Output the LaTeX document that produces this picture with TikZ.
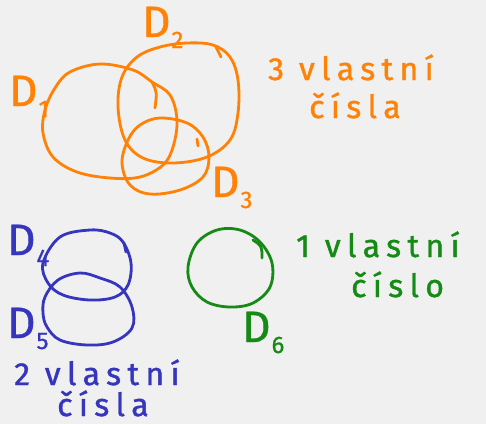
\documentclass[tikz,border=0pt]{standalone}
\usepackage{fontspec}
\setmainfont{Fira Sans}
\definecolor{bg}{HTML}{F0F0F0}
\definecolor{ora}{HTML}{FF8206}
\definecolor{blu}{HTML}{3535BE}
\definecolor{gre}{HTML}{158A15}
\newcommand{\dlab}[1]{D\kern1pt\raisebox{-0.25em}{\fontsize{24}{24}\selectfont #1}}
\tikzset{
  disc/.style={line width=2.8pt, line cap=round, line join=round},
  dname/.style={anchor=base west, inner sep=0pt, font=\fontsize{44}{44}\selectfont\addfontfeature{FakeBold=0.8}},
  cnt/.style={anchor=base west, inner sep=0pt, font=\fontsize{32}{32}\selectfont\addfontfeature{LetterSpace=20,FakeBold=1.2}}
}
\begin{document}
\begin{tikzpicture}[x=1pt,y=-1pt]
\fill[bg] (0,0) rectangle (486,424);
\useasboundingbox (0,0) rectangle (486,424);
% orange discs
\begin{scope}[ora, disc]
\draw plot[smooth cycle, tension=0.6] coordinates {(70,72) (100,64) (133,70) (152,82) (170,95) (177,120) (173,147) (163,165) (140,177) (110,178) (77,172) (53,157) (43,133) (45,110) (55,88)};
\draw (152,82) .. controls (157,92) .. (155,108);
\draw plot[smooth cycle, tension=0.6] coordinates {(187,43) (213,45) (230,57) (238,80) (238,113) (230,140) (207,157) (173,163) (143,158) (125,140) (118,107) (122,77) (137,57) (160,47)};
\draw (216,47) -- (221,57);
\draw plot[smooth cycle, tension=0.6] coordinates {(160,118) (187,123) (203,137) (209,157) (203,177) (180,190) (150,194) (130,185) (122,163) (128,140) (140,125)};
\draw (197,139) -- (198,146);
\end{scope}
\node[dname, ora] (d1) at (9,106) {\dlab{1}};
\node[dname, ora] (d2) at (142,37) {\dlab{2}};
\node[dname, ora] (d3) at (211,197) {\dlab{3}};
\node[cnt, ora] (t3a) at (268,80) {3 vlastní};
\node[cnt, ora] (t3b) at (309,118) {čísla};
% blue discs
\begin{scope}[blu, disc]
\draw plot[smooth cycle, tension=0.6] coordinates {(43,263) (60,237) (90,230) (110,233) (123,242) (131,263) (128,285) (115,297) (90,300) (63,295) (48,283)};
\draw (124,243) -- (126,252);
\draw plot[smooth cycle, tension=0.6] coordinates {(45,297) (58,280) (80,273) (100,278) (120,287) (132,307) (132,328) (113,342) (87,345) (60,340) (47,327) (43,313)};
\end{scope}
\node[dname, blu] (d4) at (7,255) {\dlab{4}};
\node[dname, blu] (d5) at (7,338) {\dlab{5}};
\node[cnt, blu] (t2a) at (14,385) {2 vlastní};
\node[cnt, blu] (t2b) at (57,416) {čísla};
% green disc
\begin{scope}[gre, disc]
\draw plot[smooth cycle, tension=0.6] coordinates {(188,267) (197,243) (217,230) (240,230) (260,242) (272,263) (270,287) (253,303) (230,307) (207,302) (192,287)};
\draw (253,240) .. controls (262,246) .. (262,258);
\end{scope}
\node[dname, gre] (d6) at (242,342) {\dlab{6}};
\node[cnt, gre] (t1a) at (296,257) {1 vlastní};
\node[cnt, gre] (t1b) at (351,297) {číslo};
\end{tikzpicture}
\end{document}
